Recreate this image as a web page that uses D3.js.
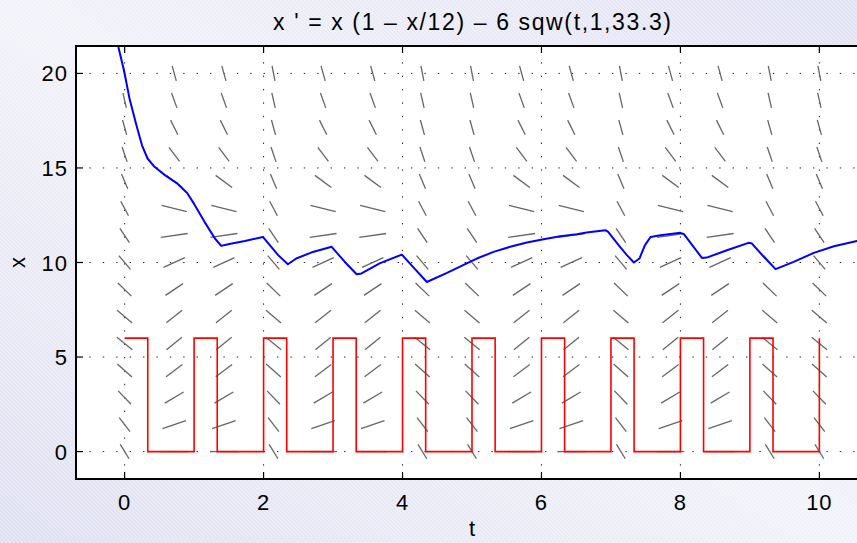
<!DOCTYPE html>
<html>
<head>
<meta charset="utf-8">
<script src="https://cdn.jsdelivr.net/npm/d3@7/dist/d3.min.js"></script>
<style>
  html, body { margin: 0; padding: 0; overflow: hidden; }
  svg { display: block; font-family: "Liberation Sans", Arial, Helvetica, sans-serif; }
</style>
</head>
<body>
<div class="js-dfield"></div>
<script>
// tick values
const tTicks = [0, 2, 4, 6, 8, 10];
const xTicks = [0, 5, 10, 15, 20];

// direction field grid (t columns, x rows)
const fieldT = [0, 0.714, 1.429, 2.143, 2.857, 3.571, 4.286, 5, 5.714, 6.429, 7.143, 7.857, 8.571, 9.286, 10];
const fieldX = [0, 1.429, 2.857, 4.286, 5.714, 7.143, 8.571, 10, 11.429, 12.857, 14.286, 15.714, 17.143, 18.571, 20];
// 1 = forcing on in that column
const fieldForced = [1, 0, 0, 1, 0, 0, 1, 1, 0, 0, 1, 0, 0, 1, 1];
// slopes per row, forcing off / on
const slopeFree   = [0, 1.26, 2.18, 2.76, 2.99, 2.89, 2.45, 1.67, 0.54, -0.92, -2.72, -4.86, -7.35, -10.17, -13.33];
const slopeForced = [-6, -4.74, -3.82, -3.24, -3.01, -3.11, -3.55, -4.33, -5.46, -6.92, -8.72, -10.86, -13.35, -16.17, -19.33];

// red square wave: pulse start / end times, height
const pulseStart = [0, 1, 2, 3, 4, 5, 6, 7, 8, 9, 10];
const pulseEnd   = [0.333, 1.333, 2.333, 3.333, 4.333, 5.333, 6.333, 7.333, 8.333, 9.333, 10];
const pulseHeight = 6;

// blue solution
const solT = [-0.09, -0.01, 0.07, 0.17, 0.25, 0.33, 0.43, 0.58, 0.75, 0.9, 1.0, 1.15, 1.3, 1.39, 1.49, 1.73, 1.99,
              2.21, 2.35, 2.47, 2.71, 2.98, 3.17, 3.34, 3.41, 3.67, 3.99, 4.15, 4.35, 4.64, 4.97, 5.07, 5.31, 5.55,
              5.79, 6.03, 6.27, 6.51, 6.65, 6.92, 6.96, 7.11, 7.23, 7.33, 7.41, 7.49, 7.57, 7.71, 8.0, 8.05, 8.31,
              8.38, 8.67, 8.98, 9.03, 9.2, 9.37, 9.63, 9.92, 10.21, 10.54, 10.7];
const solX = [21.4, 20.17, 18.68, 17.26, 16.2, 15.5, 15.06, 14.62, 14.2, 13.68, 13.1, 12.15, 11.27, 10.88, 10.97, 11.14, 11.35,
              10.39, 9.91, 10.21, 10.56, 10.83, 10.03, 9.38, 9.42, 9.95, 10.42, 9.77, 8.97, 9.45, 10.03, 10.21, 10.56, 10.83,
              11.06, 11.23, 11.39, 11.49, 11.59, 11.71, 11.62, 10.92, 10.39, 10.0, 10.21, 10.92, 11.35, 11.44, 11.57, 11.5, 10.24,
              10.26, 10.65, 11.04, 11.0, 10.3, 9.65, 10.03, 10.51, 10.86, 11.14, 11.25];

const width = 857, height = 543;
const box = { left: 76, top: 46, right: 868, bottom: 479 };

const svg = d3.select('.js-dfield').append('svg')
  .attr('width', width).attr('height', height);

const defs = svg.append('defs');

const bg = defs.append('linearGradient').attr('id', 'bg')
  .attr('x1', 0).attr('y1', 1).attr('x2', 1).attr('y2', 0);
bg.append('stop').attr('offset', '0%').attr('stop-color', '#e0e0f4');
bg.append('stop').attr('offset', '50%').attr('stop-color', '#f2f2fa');
bg.append('stop').attr('offset', '100%').attr('stop-color', '#e2e2f6');

const hatch = defs.append('pattern').attr('id', 'hatch')
  .attr('width', 4).attr('height', 4).attr('patternUnits', 'userSpaceOnUse');
hatch.append('path').attr('d', 'M -1 -1 L 5 5')
  .attr('stroke', '#ffffff').attr('stroke-opacity', 0.35).attr('stroke-width', 1);

defs.append('clipPath').attr('id', 'plot-clip')
  .append('rect')
  .attr('x', box.left).attr('y', box.top)
  .attr('width', box.right - box.left).attr('height', box.bottom - box.top);

svg.append('rect').attr('width', width).attr('height', height).attr('fill', 'url(#bg)');
svg.append('rect').attr('width', width).attr('height', height).attr('fill', 'url(#hatch)');

const x = d3.scaleLinear().domain([-0.7, 10.7]).range([box.left, box.right]);
const y = d3.scaleLinear().domain([-1.45, 21.45]).range([box.bottom, box.top]);

svg.append('rect')
  .attr('x', box.left).attr('y', box.top)
  .attr('width', box.right - box.left).attr('height', box.bottom - box.top)
  .attr('fill', '#ffffff');

const plot = svg.append('g').attr('clip-path', 'url(#plot-clip)');

// dotted grid
const dots = '1.4,12';
plot.append('g').selectAll('line').data(tTicks).enter().append('line')
  .attr('x1', d => x(d)).attr('x2', d => x(d))
  .attr('y1', box.bottom).attr('y2', box.top)
  .attr('stroke', '#222').attr('stroke-dasharray', dots);
plot.append('g').selectAll('line').data(xTicks).enter().append('line')
  .attr('x1', box.left).attr('x2', box.right)
  .attr('y1', d => y(d)).attr('y2', d => y(d))
  .attr('stroke', '#222').attr('stroke-dasharray', dots);

// direction field segments, fixed length in grid-cell units
const cellW = x(fieldT[1]) - x(fieldT[0]);
const cellH = y(fieldX[0]) - y(fieldX[1]);
const segLen = 0.56;

const cells = [];
fieldT.forEach((t, i) => {
  fieldX.forEach((v, j) => {
    cells.push({ t: t, v: v, m: fieldForced[i] ? slopeForced[j] : slopeFree[j] });
  });
});

plot.append('g').selectAll('line').data(cells).enter().append('line')
  .each(function (d) {
    const dt = 0.1;
    const px = (x(d.t + dt) - x(d.t)) / cellW;
    const py = (y(d.v + d.m * dt) - y(d.v)) / cellH;
    const n = Math.sqrt(px * px + py * py);
    const hx = px / n * segLen * cellW / 2;
    const hy = py / n * segLen * cellH / 2;
    d3.select(this)
      .attr('x1', x(d.t) - hx).attr('y1', y(d.v) - hy)
      .attr('x2', x(d.t) + hx).attr('y2', y(d.v) + hy);
  })
  .attr('stroke', '#666').attr('stroke-width', 1.3);

// red square wave
const redPts = [];
pulseStart.forEach((s, i) => {
  if (i > 0) redPts.push([s, 0]);
  redPts.push([s, pulseHeight]);
  if (pulseEnd[i] > s) {
    redPts.push([pulseEnd[i], pulseHeight]);
    redPts.push([pulseEnd[i], 0]);
  }
});

const line = d3.line().x(d => x(d[0])).y(d => y(d[1]));

plot.append('path').datum(redPts)
  .attr('d', line)
  .attr('fill', 'none').attr('stroke', '#ff0000').attr('stroke-width', 1.6);

// blue solution
plot.append('path').datum(solT.map((t, i) => [t, solX[i]]))
  .attr('d', line)
  .attr('fill', 'none').attr('stroke', '#0000ff').attr('stroke-width', 2)
  .attr('stroke-linejoin', 'round');

// inward ticks
const tickLen = 7;
const ticks = svg.append('g').attr('stroke', '#000').attr('stroke-width', 1.2);
tTicks.forEach(t => {
  ticks.append('line').attr('x1', x(t)).attr('x2', x(t)).attr('y1', box.bottom).attr('y2', box.bottom - tickLen);
  ticks.append('line').attr('x1', x(t)).attr('x2', x(t)).attr('y1', box.top).attr('y2', box.top + tickLen);
});
xTicks.forEach(v => {
  ticks.append('line').attr('x1', box.left).attr('x2', box.left + tickLen).attr('y1', y(v)).attr('y2', y(v));
});

// box
svg.append('rect')
  .attr('x', box.left).attr('y', box.top)
  .attr('width', box.right - box.left).attr('height', box.bottom - box.top)
  .attr('fill', 'none').attr('stroke', '#000').attr('stroke-width', 2);

// tick labels
svg.append('g').selectAll('text').data(tTicks).enter().append('text')
  .attr('x', d => x(d)).attr('y', 510)
  .attr('text-anchor', 'middle')
  .style('font-size', '22px').style('letter-spacing', '1px')
  .text(d => d);

svg.append('g').selectAll('text').data(xTicks).enter().append('text')
  .attr('x', 68).attr('y', d => y(d) + 8)
  .attr('text-anchor', 'end')
  .style('font-size', '22px').style('letter-spacing', '1px')
  .text(d => d);

// labels and title
svg.append('text')
  .attr('x', x(5)).attr('y', 536)
  .attr('text-anchor', 'middle')
  .style('font-size', '22px')
  .text('t');

svg.append('text')
  .attr('transform', 'translate(25,' + y(10) + ') rotate(-90)')
  .attr('text-anchor', 'middle')
  .style('font-size', '22px')
  .text('x');

svg.append('text')
  .attr('x', 273).attr('y', 30)
  .attr('textLength', 398).attr('lengthAdjust', 'spacing')
  .style('font-size', '23px')
  .text("x ' = x (1 \u2013 x/12) \u2013 6 sqw(t,1,33.3)");
</script>
</body>
</html>
